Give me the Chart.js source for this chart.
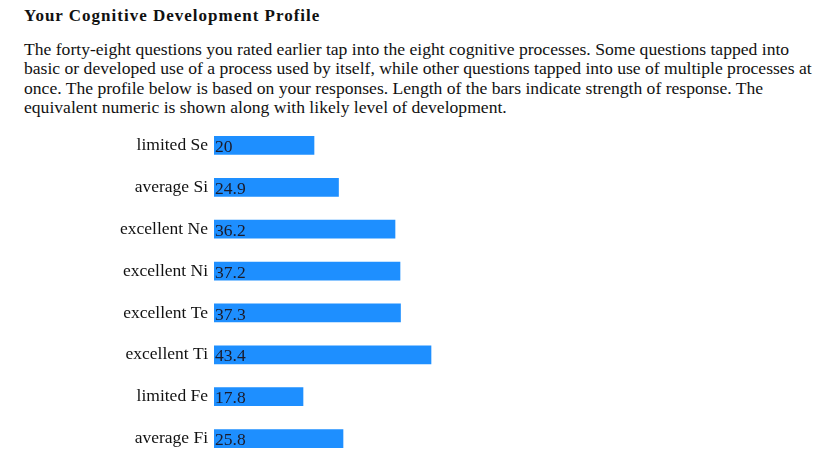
<!DOCTYPE html>
<html>
<head>
<meta charset="utf-8">
<script src="https://cdn.jsdelivr.net/npm/chart.js@4/dist/chart.umd.min.js"></script>
<style>
  body { margin: 0; background: #fff; font-family: "Liberation Serif", serif; color: #111; overflow: hidden; }
  h3 { position: absolute; left: 24px; top: 6px; margin: 0; font-size: 17px; letter-spacing: 1px; font-weight: bold; }
  p { position: absolute; left: 24px; top: 40px; margin: 0; font-size: 17.6px; line-height: 19.3px; white-space: nowrap; }
  #wrap { position: absolute; left: 0; top: 108px; width: 827px; height: 368px; }
</style>
</head>
<body>
<h3>Your Cognitive Development Profile</h3>
<p>The forty-eight questions you rated earlier tap into the eight cognitive processes. Some questions tapped into<br>
basic or developed use of a process used by itself, while other questions tapped into use of multiple processes at<br>
once. The profile below is based on your responses. Length of the bars indicate strength of response. The<br>
equivalent numeric is shown along with likely level of development.</p>
<div id="wrap"><canvas id="profile" width="827" height="368"></canvas></div>
<script>
var levels = ['limited', 'average', 'excellent', 'excellent', 'excellent', 'excellent', 'limited', 'average'];
var processes = ['Se', 'Si', 'Ne', 'Ni', 'Te', 'Ti', 'Fe', 'Fi'];
var scores = [20, 24.9, 36.2, 37.2, 37.3, 43.4, 17.8, 25.8];

var labels = processes.map(function(p, i) { return levels[i] + ' ' + p; });

// write the score at the start of each bar
var valueText = {
  id: 'valueText',
  afterDatasetsDraw: function(chart) {
    var ctx = chart.ctx;
    var meta = chart.getDatasetMeta(0);
    ctx.save();
    ctx.font = '17.5px "Liberation Serif"';
    ctx.fillStyle = '#1b1b2a';
    ctx.textAlign = 'left';
    ctx.textBaseline = 'middle';
    meta.data.forEach(function(bar, i) {
      ctx.fillText(scores[i], bar.base + 1, bar.y + 2);
    });
    ctx.restore();
  }
};

var ctx = document.getElementById('profile').getContext('2d');
var myChart = new Chart(ctx, {
  type: 'bar',
  data: {
    labels: labels,
    datasets: [{
      data: scores,
      backgroundColor: '#1e8fff',
      barThickness: 18
    }]
  },
  options: {
    indexAxis: 'y',
    responsive: false,
    animation: false,
    layout: { padding: { left: 0, right: 113, top: 0, bottom: 0 } },
    plugins: { legend: { display: false }, tooltip: { enabled: false } },
    scales: {
      x: { display: false, min: 0, max: 100 },
      y: {
        grid: { display: false, drawTicks: false },
        border: { display: false },
        ticks: { color: '#111', padding: 6, font: { family: 'Liberation Serif', size: 17.5 } },
        afterFit: function(s) { s.width = 214; }
      }
    }
  },
  plugins: [valueText]
});
</script>
</body>
</html>
